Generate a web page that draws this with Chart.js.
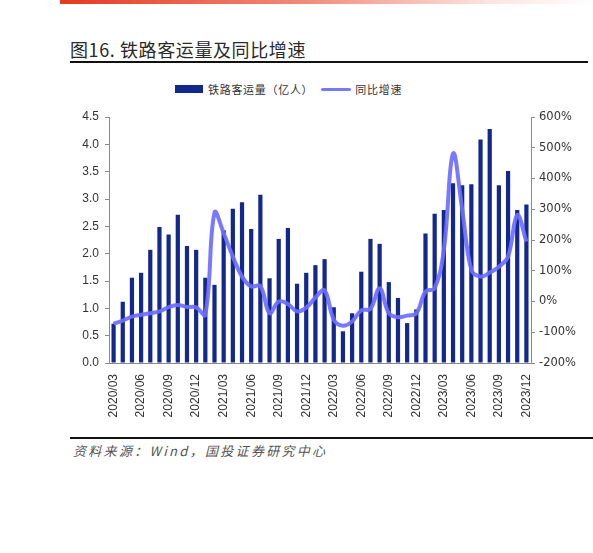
<!DOCTYPE html>
<html>
<head>
<meta charset="utf-8">
<script src="https://cdn.jsdelivr.net/npm/chart.js@4/dist/chart.umd.min.js"></script>
<style>
  html, body { margin: 0; padding: 0; background: #fff; }
  #page { position: relative; width: 593px; height: 553px; overflow: hidden; font-family: "Noto Sans CJK SC", sans-serif; }
  #topbar { position: absolute; left: 60px; top: 0; width: 533px; height: 4px;
    background: linear-gradient(to right, #e33a22, #f08a78 45%, #fbe3de 80%, #ffffff); }
  #title { position: absolute; left: 70px; top: 36px; font-size: 18px; font-weight: 400; color: #2a2a2a; letter-spacing: 0.6px; }
  #titleline { position: absolute; left: 70px; top: 61px; width: 518px; height: 2px; background: #111; }
  #legend { position: absolute; top: 81px; left: 175px; font-size: 11px; color: #333; display: flex; align-items: center; white-space: nowrap; letter-spacing: 0.7px; }
  #legend .box { width: 28px; height: 8px; background: #13288c; margin-right: 5px; }
  #legend .ln { width: 30px; height: 3px; background: #7878ff; margin: 0 4px 0 8px; border-radius: 2px; }
  #chartwrap { position: absolute; left: 60px; top: 100px; width: 533px; height: 330px; }
  #bottomline { position: absolute; left: 70px; top: 437px; width: 523px; height: 2px; background: #111; }
  #source { position: absolute; left: 73px; top: 441px; font-size: 13px; font-style: italic; color: #555; letter-spacing: 2.3px; }
</style>
</head>
<body>
<div id="page">
  <div id="topbar"></div>
  <div id="title">图16. 铁路客运量及同比增速</div>
  <div id="titleline"></div>
  <div id="legend"><span class="box"></span>铁路客运量（亿人）<span class="ln"></span>同比增速</div>
  <div id="chartwrap"><canvas id="chart"></canvas></div>
  <div id="bottomline"></div>
  <div id="source">资料来源：Wind，国投证券研究中心</div>
</div>
<script>
const months = [
  "2020/03","2020/04","2020/05","2020/06","2020/07","2020/08","2020/09","2020/10","2020/11","2020/12",
  "2021/01","2021/02","2021/03","2021/04","2021/05","2021/06","2021/07","2021/08","2021/09","2021/10","2021/11","2021/12",
  "2022/01","2022/02","2022/03","2022/04","2022/05","2022/06","2022/07","2022/08","2022/09","2022/10","2022/11","2022/12",
  "2023/01","2023/02","2023/03","2023/04","2023/05","2023/06","2023/07","2023/08","2023/09","2023/10","2023/11","2023/12"
]

// 铁路客运量（亿人）
const passengers = [
  0.72, 1.12, 1.56, 1.65, 2.07, 2.49, 2.35, 2.71, 2.14, 2.07,
  1.56, 1.43, 2.43, 2.82, 2.94, 2.45, 3.08, 1.55, 2.27, 2.47, 1.45, 1.65,
  1.79, 1.90, 1.02, 0.58, 0.91, 1.67, 2.27, 2.18, 1.48, 1.19, 0.73, 0.98,
  2.37, 2.73, 2.80, 3.29, 3.25, 3.27, 4.09, 4.28, 3.25, 3.51, 2.80, 2.90
]

// 同比增速（%）
const growth = [
  -72, -62, -49, -43, -38, -32, -18, -11, -18, -19,
  -43, 289, 222, 146, 81, 49, 51, -38, 0, -8, -32, -20,
  13, 36, -59, -79, -65, -29, -24, 43, -38, -51, -46, -38,
  32, 43, 168, 481, 300, 103, 81, 94, 113, 146, 281, 195
]

const leftTicks = { min: 0, max: 4.5, step: 0.5 }
const rightTicks = { min: -200, max: 600, step: 100 }

const axisColor = "#8a8a8a"
const tickFont = { family: "Liberation Sans, Arial, sans-serif", size: 12 }

new Chart(document.getElementById("chart"), {
  type: "bar",
  data: {
    labels: months,
    datasets: [
      {
        type: "line",
        label: "同比增速",
        data: growth,
        yAxisID: "y1",
        borderColor: "rgba(110,110,255,0.92)",
        borderWidth: 4,
        pointRadius: 0,
        tension: 0.4,
        fill: false,
        order: 0,
      },
      {
        type: "bar",
        label: "铁路客运量（亿人）",
        data: passengers,
        yAxisID: "y",
        backgroundColor: "#13288c",
        barPercentage: 0.46,
        categoryPercentage: 1.0,
        order: 1,
      },
    ],
  },
  options: {
    responsive: true,
    maintainAspectRatio: false,
    animation: false,
    layout: { padding: { top: 17, left: 0, right: 0, bottom: 0 } },
    plugins: {
      legend: { display: false },
      tooltip: { enabled: false },
    },
    scales: {
      x: {
        offset: true,
        grid: { display: false },
        border: { display: true, color: axisColor, width: 1 },
        ticks: {
          autoSkip: false,
          minRotation: 90,
          maxRotation: 90,
          color: "#333",
          font: { ...tickFont, size: 12 },
          padding: 3,
          callback: (value, index) => (index % 3 === 0 ? months[index] : ""),
        },
        afterFit: (scale) => { scale.height = 67 },
      },
      y: {
        position: "left",
        min: leftTicks.min,
        max: leftTicks.max,
        grid: { drawOnChartArea: false, drawTicks: true, tickLength: 4, color: axisColor },
        border: { display: true, color: axisColor, width: 1 },
        ticks: {
          stepSize: leftTicks.step,
          color: "#333",
          font: tickFont,
          padding: 6,
          callback: (v) => v.toFixed(1),
        },
        afterFit: (scale) => { scale.width = 49 },
      },
      y1: {
        position: "right",
        min: rightTicks.min,
        max: rightTicks.max,
        grid: { drawOnChartArea: false, drawTicks: true, tickLength: 4, color: axisColor },
        border: { display: true, color: axisColor, width: 1 },
        ticks: {
          stepSize: rightTicks.step,
          color: "#333",
          font: { family: "DejaVu Sans, sans-serif", size: 11.5 },
          padding: 4,
          callback: (v) => v + "%",
        },
        afterFit: (scale) => { scale.width = 62 },
      },
    },
  },
})
</script>
</body>
</html>
